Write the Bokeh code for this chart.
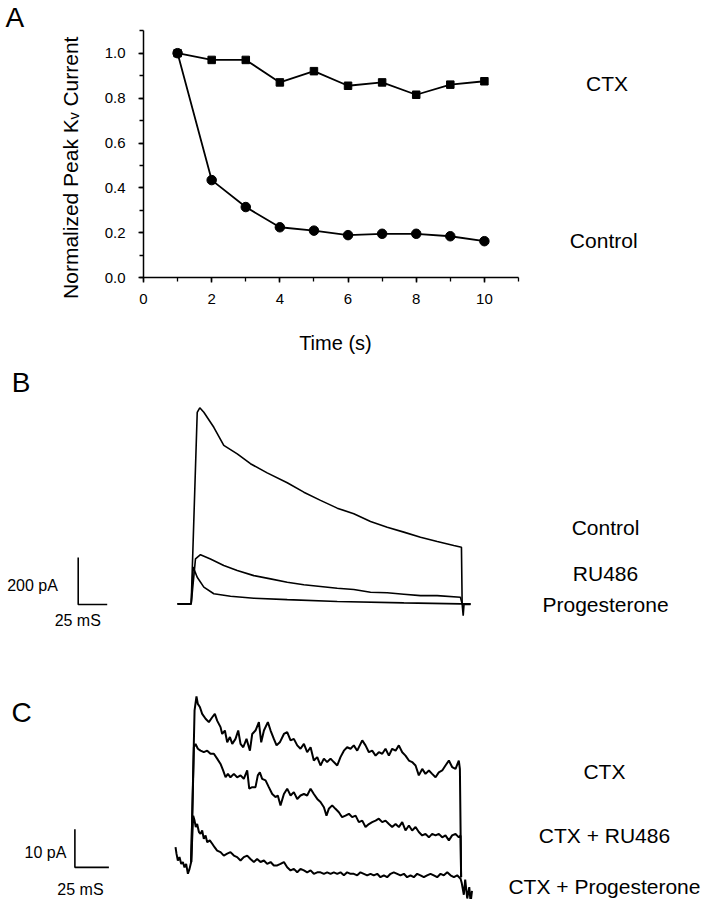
import math
from bokeh.plotting import figure
from bokeh.layouts import column
from bokeh.models import Range1d, SingleIntervalTicker, PrintfTickFormatter, Label
from bokeh.embed import file_html
from bokeh.resources import INLINE

FONT = "Liberation Sans"

# ---------------- Panel A data ----------------
TIME_S = [1, 2, 3, 4, 5, 6, 7, 8, 9, 10]
CTX_NORM = [1.00, 0.97, 0.97, 0.87, 0.92, 0.855, 0.87, 0.815, 0.86, 0.875]
CONTROL_NORM = [1.00, 0.435, 0.315, 0.225, 0.21, 0.19, 0.196, 0.196, 0.185, 0.163]
A_XTICK_STEP = 2
A_YTICK_STEP = 0.2
A_X_AXIS = (0, 11)
A_Y_AXIS = (0, 1.1)

# ---------------- Panel B data (time ms, current pA) ----------------
B_CONTROL = [(0, 0), (11.8, 0), (17.0, 814), (19.2, 834), (22.7, 815), (31.3, 751),
             (39.9, 674), (51.5, 638), (62.9, 596), (77.3, 557), (94.6, 515),
             (108.9, 475), (123.3, 440), (137.7, 407), (152.0, 383), (166.4, 350),
             (180.8, 326), (195.1, 305), (209.5, 283), (223.9, 265), (238.2, 248),
             (244.8, 241), (245.4, 0), (246.3, -50), (247.0, -3), (252.6, -3)]
B_RU486 = [(0, 0), (11.8, 0), (15.5, 191), (19.8, 209), (28.4, 191), (39.9, 163),
           (51.5, 142), (65.8, 120), (80.2, 106), (94.6, 92), (108.9, 81),
           (123.3, 74), (137.7, 66), (152.0, 61), (166.4, 49), (180.8, 47),
           (195.1, 41), (209.5, 35), (223.9, 35), (243.9, 28), (245.4, 0), (252.6, 0)]
B_PROG = [(0, 0), (11.8, 0), (13.5, 156), (17.0, 113), (22.7, 71), (31.3, 43),
          (45.7, 32), (65.8, 24), (94.6, 18), (137.7, 10), (195.1, 4),
          (243.9, 0), (252.6, 0)]
B_LABELS = ["Control", "RU486", "Progesterone"]
B_LABEL_LEVELS = [325, 129, -3]
B_SCALE = (25, 200)  # ms, pA

# ---------------- Panel C data (time ms, current pA) ----------------
C_CTX = [(11.5, -0.4), (14.0, 39.5), (15.4, 43.2), (16.4, 41.2), (17.9, 40.4), (19.6, 38.6),
         (22.1, 37.3), (24.5, 36.4), (27.0, 37.7), (28.9, 38.6), (30.6, 36.8), (33.1, 35.1),
         (34.3, 33.3), (36.3, 34.2), (38.0, 31.1), (40.0, 32.5), (41.7, 30.7), (44.1, 32.0),
         (46.1, 34.2), (47.8, 30.7), (49.8, 29.8), (52.2, 32.0), (54.7, 28.9), (56.4, 33.3),
         (58.8, 34.2), (61.3, 36.4), (63.0, 31.1), (65.0, 34.2), (67.9, 36.4), (69.9, 34.2),
         (72.3, 32.0), (74.3, 30.3), (76.7, 31.1), (79.7, 33.3), (82.1, 33.8), (84.6, 31.6),
         (87.0, 32.0), (89.5, 30.3), (91.9, 29.4), (94.4, 30.7), (96.8, 28.5), (99.3, 29.8),
         (101.7, 26.3), (104.2, 27.2), (106.6, 25.0), (109.1, 26.8), (111.5, 25.9), (114.0, 26.8),
         (116.4, 25.9), (118.9, 25.0), (121.3, 27.2), (123.8, 28.9), (126.2, 29.8), (128.7, 29.4),
         (131.1, 30.3), (133.6, 28.9), (137.3, 31.6), (139.7, 30.3), (142.2, 28.5), (144.6, 28.9),
         (147.1, 27.6), (149.5, 28.5), (152.0, 28.1), (154.4, 29.4), (156.9, 27.6), (159.3, 29.4),
         (161.8, 28.9), (164.2, 30.3), (166.7, 28.5), (169.1, 27.6), (171.6, 26.3), (174.0, 25.9),
         (176.5, 25.0), (178.9, 22.4), (181.4, 24.1), (183.8, 22.8), (186.3, 23.7), (188.7, 22.8),
         (191.2, 21.9), (193.6, 23.2), (196.1, 23.7), (198.5, 25.0), (201.0, 26.3), (203.4, 24.6),
         (205.9, 24.1), (208.3, 26.3), (209.1, 24.1), (210.0, -4.4)]
C_RU486 = [(11.5, -0.4), (13.5, 29.8), (14.7, 30.7), (16.4, 29.4), (18.4, 28.9), (20.8, 28.5),
           (23.3, 28.9), (25.7, 28.1), (28.2, 28.1), (30.6, 26.8), (33.1, 25.4), (35.0, 23.7),
           (36.8, 21.9), (38.5, 22.8), (40.4, 21.9), (42.9, 22.8), (45.3, 21.9), (47.8, 22.4),
           (50.2, 21.5), (52.7, 23.7), (54.2, 18.9), (56.4, 19.3), (58.8, 19.3), (60.5, 22.4),
           (62.0, 23.2), (63.7, 21.5), (66.2, 21.1), (68.6, 19.3), (71.1, 17.5), (73.5, 16.7),
           (75.2, 17.1), (77.2, 14.5), (79.7, 17.5), (82.1, 18.9), (84.6, 17.1), (87.0, 18.0),
           (89.5, 16.2), (91.9, 17.1), (94.4, 17.5), (96.8, 17.1), (99.3, 18.9), (101.7, 17.5),
           (104.2, 16.2), (106.6, 15.4), (109.1, 14.0), (111.0, 11.8), (112.7, 13.6), (115.2, 14.5),
           (117.6, 13.6), (120.1, 12.7), (122.5, 11.4), (125.0, 11.8), (127.5, 12.3), (129.9, 11.4),
           (132.4, 11.8), (134.8, 10.1), (137.3, 10.5), (139.7, 8.8), (142.2, 9.6), (144.6, 10.1),
           (147.1, 10.5), (149.5, 11.0), (152.0, 10.1), (154.4, 10.5), (156.9, 9.6), (159.3, 8.8),
           (161.8, 9.6), (164.2, 8.8), (166.7, 10.1), (169.1, 7.9), (171.6, 9.2), (174.0, 7.9),
           (176.5, 8.8), (178.9, 7.5), (181.4, 6.6), (183.8, 7.0), (186.3, 6.1), (188.7, 7.0),
           (191.2, 6.6), (193.6, 7.0), (196.1, 6.1), (198.5, 6.6), (201.0, 5.3), (203.4, 6.6),
           (205.9, 7.0), (208.3, 6.1), (209.6, 6.6), (210.0, -4.4)]
C_PROG = [(0, 3.5), (0.7, 1.8), (1.7, 0), (2.9, 0.9), (4.2, -0.9), (5.4, -0.4), (6.6, -1.8),
          (7.8, -0.9), (9.1, -3.5), (10.3, -2.2), (11.5, -0.4), (13.0, 11.8), (14.0, 10.5),
          (14.9, 8.8), (15.9, 9.6), (17.2, 7.5), (18.4, 7.0), (19.6, 7.9), (20.8, 5.7),
          (22.1, 6.6), (23.3, 4.8), (25.2, 5.3), (27.0, 4.4), (28.7, 3.5), (30.6, 2.6),
          (33.1, 2.2), (35.5, 1.3), (38.0, 1.8), (40.4, 2.2), (42.9, 1.3), (45.3, 0.9),
          (47.8, 0), (50.2, 0.9), (52.7, 1.3), (55.1, 0.4), (57.6, -0.4), (60.0, 0.4),
          (62.5, -0.4), (65.0, 0), (67.4, -0.9), (69.9, -0.4), (72.3, -1.3), (74.8, -1.3),
          (77.2, -0.9), (79.7, -0.4), (82.1, -1.8), (84.6, -2.6), (87.0, -2.2), (89.5, -3.1),
          (91.9, -2.2), (94.4, -2.6), (96.8, -3.1), (99.3, -2.6), (101.7, -3.5), (104.2, -3.1),
          (106.6, -3.1), (109.1, -3.5), (111.5, -3.1), (114.0, -3.5), (116.4, -3.1), (118.9, -3.5),
          (121.3, -3.1), (123.8, -3.9), (126.2, -3.1), (128.7, -3.5), (131.1, -3.5), (133.6, -3.9),
          (136.0, -3.1), (138.5, -3.5), (140.9, -3.9), (143.4, -3.5), (145.8, -3.9), (148.3, -3.5),
          (150.7, -4.4), (153.2, -3.9), (155.6, -4.4), (158.1, -3.5), (160.5, -3.1), (163.0, -3.5),
          (165.4, -3.9), (167.9, -3.5), (170.3, -4.4), (172.8, -3.9), (175.2, -4.4), (177.7, -3.5),
          (180.1, -3.9), (182.6, -4.4), (185.0, -3.9), (187.5, -3.5), (189.9, -3.9), (192.4, -4.4),
          (194.9, -3.5), (197.3, -3.9), (199.8, -3.1), (202.2, -3.9), (204.7, -4.4), (207.1, -3.9),
          (209.6, -4.8), (210.5, -6.0), (212.0, -9.0), (213.0, -5.0), (214.5, -10.0),
          (216.0, -7.0), (217.0, -11.0), (218.0, -8.0)]
C_LABELS = ["CTX", "CTX + RU486", "CTX + Progesterone"]
C_LABEL_LEVELS = [23.4, 6.6, -6.8]
C_SCALE = (25, 10)  # ms, pA


def unzip(pairs):
    return [p[0] for p in pairs], [p[1] for p in pairs]


def base_fig(**kw):
    p = figure(output_backend="svg", toolbar_location=None, min_border=0, **kw)
    p.outline_line_color = None
    p.background_fill_color = "white"
    p.border_fill_color = "white"
    return p


def txt(p, x, y, s, size, align="center", baseline="middle", angle=0.0):
    p.add_layout(Label(x=x, y=y, text=s, text_font=FONT, text_font_size=size,
                       text_align=align, text_baseline=baseline, angle=angle,
                       text_color="black"))


# ---------------- Panel A ----------------
pa = base_fig(width=705, height=368, x_range=Range1d(-4.195, 16.486),
              y_range=Range1d(-0.4038, 1.2346))
pa.grid.visible = False
pa.line(TIME_S, CONTROL_NORM, line_color="black", line_width=1.8)
pa.scatter(TIME_S, CONTROL_NORM, marker="circle", size=9.5, fill_color="black",
           line_color="black")
pa.line(TIME_S, CTX_NORM, line_color="black", line_width=1.8)
pa.scatter(TIME_S, CTX_NORM, marker="square", size=7.5, fill_color="black",
           line_color="black")

xa = pa.xaxis[0]
xa.ticker = SingleIntervalTicker(interval=A_XTICK_STEP, num_minor_ticks=2)
xa.bounds = A_X_AXIS
xa.fixed_location = A_Y_AXIS[0]
ya = pa.yaxis[0]
ya.ticker = SingleIntervalTicker(interval=A_YTICK_STEP, num_minor_ticks=2)
ya.formatter = PrintfTickFormatter(format="%.1f")
ya.bounds = A_Y_AXIS
ya.fixed_location = A_X_AXIS[0]
for ax in (xa, ya):
    ax.axis_line_color = "black"
    ax.axis_line_width = 1.5
    ax.major_tick_line_color = "black"
    ax.major_tick_line_width = 1.5
    ax.minor_tick_line_color = "black"
    ax.minor_tick_line_width = 1.3
    ax.major_tick_in = 0
    ax.major_tick_out = 5
    ax.minor_tick_in = 0
    ax.minor_tick_out = 4
    ax.major_label_text_font = FONT
    ax.major_label_text_font_size = "15px"
    ax.major_label_text_color = "black"
xa.major_label_standoff = 11
ya.major_label_standoff = 13

txt(pa, -2.14, 0.49, "Normalized Peak K\u1d65 Current", "21px", angle=math.pi / 2)
txt(pa, 5.63, -0.29, "Time (s)", "20px")
txt(pa, 13.6, 0.864, "CTX", "21px")
txt(pa, 13.5, 0.166, "Control", "21px")
txt(pa, -4.05, 1.159, "A", "28px", align="left")

# ---------------- Panel B ----------------
pb = base_fig(width=705, height=272, x_range=Range1d(-152.6, 455.2),
              y_range=Range1d(-156, 1001), x_axis_location=None, y_axis_location=None)
pb.grid.visible = False
for trace in (B_CONTROL, B_RU486, B_PROG):
    t, i = unzip(trace)
    pb.line(t, i, line_color="black", line_width=1.6)
bx0, by0 = -85.6, -3
pb.line([bx0, bx0, bx0 + B_SCALE[0]], [by0 + B_SCALE[1], by0, by0],
        line_color="black", line_width=1.6)
txt(pb, -125, 78, f"{B_SCALE[1]} pA", "16px")
txt(pb, -86, -71, f"{B_SCALE[0]} mS", "16px")
for lab, lev in zip(B_LABELS, B_LABEL_LEVELS):
    txt(pb, 369, lev, lab, "21px")
txt(pb, -143, 942, "B", "28px", align="left")

# ---------------- Panel C ----------------
pc = base_fig(width=705, height=259, x_range=Range1d(-128.7, 389.7),
              y_range=Range1d(-10.26, 57.89), x_axis_location=None, y_axis_location=None)
pc.grid.visible = False
for trace in (C_CTX, C_RU486, C_PROG):
    t, i = unzip(trace)
    pc.line(t, i, line_color="black", line_width=2.0)
cx0, cy0 = -74, -1.8
pc.line([cx0, cx0, cx0 + C_SCALE[0]], [cy0 + C_SCALE[1], cy0, cy0],
        line_color="black", line_width=1.6)
txt(pc, -95.6, 2.1, f"{C_SCALE[1]} pA", "16px")
txt(pc, -69.9, -7.6, f"{C_SCALE[0]} mS", "16px")
for lab, lev in zip(C_LABELS, C_LABEL_LEVELS):
    txt(pc, 315.4, lev, lab, "21px")
txt(pc, -120.6, 38.9, "C", "28px", align="left")

layout = column(pa, pb, pc, spacing=0)
open("out.html", "w").write(file_html(layout, INLINE))
